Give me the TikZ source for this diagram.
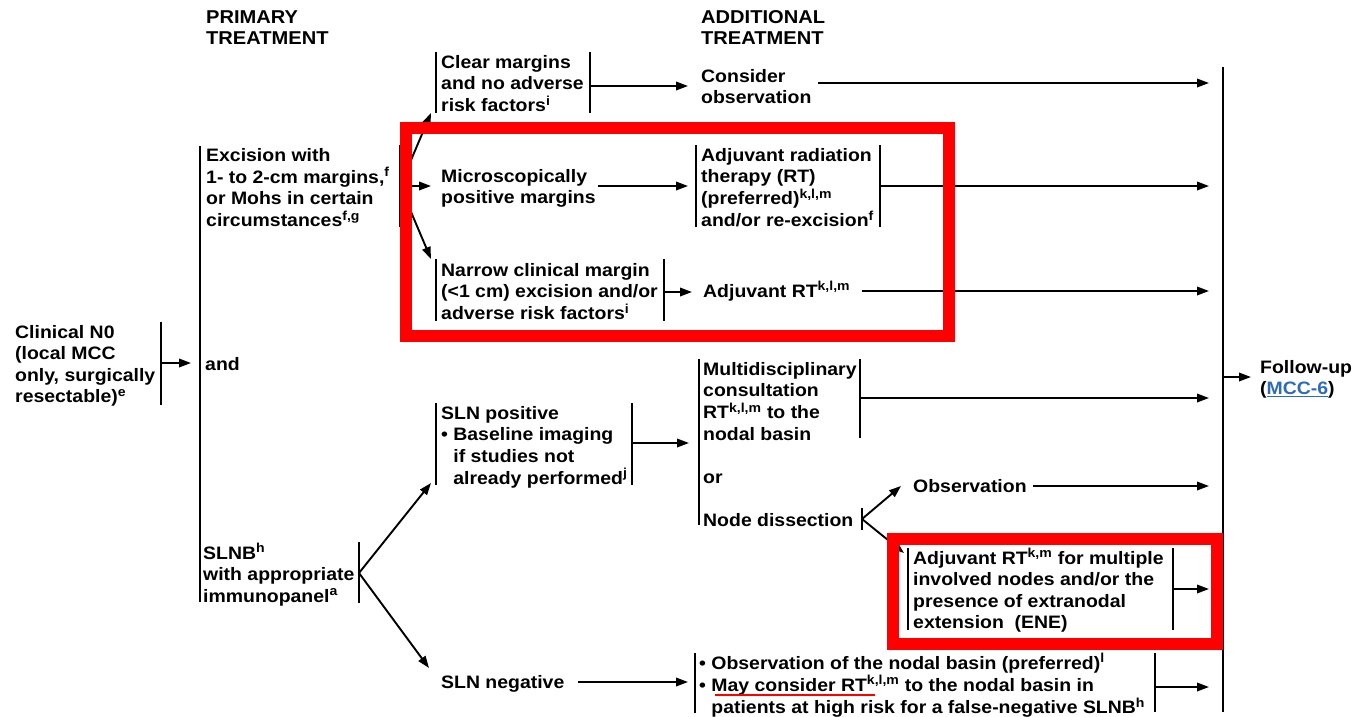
\documentclass[tikz,border=0pt]{standalone}
\usepackage{fontspec}
\setmainfont{Liberation Sans}[FakeStretch=1.08]
\usetikzlibrary{arrows.meta}
\newcommand\mlines[1]{\begin{tabular}[t]{@{}l@{}}#1\end{tabular}}
\newcommand\bul{\textbullet\ }
\newcommand\nobul{\phantom{\textbullet\ }}
\newcommand\spr[1]{\textsuperscript{\fontsize{13}{13}\selectfont #1}}
\definecolor{nred}{RGB}{255,0,0}
\definecolor{nblue}{RGB}{46,109,180}
\begin{document}
\begin{tikzpicture}[x=1pt,y=-1pt,
  txt/.style={anchor=base west,inner sep=0pt,font=\fontsize{18}{21.5}\selectfont\bfseries},
  head/.style={anchor=base west,inner sep=0pt,font=\fontsize{18.6}{21.5}\selectfont\bfseries},
  bar/.style={line width=2.2pt},
  arr/.style={line width=1.9pt,-{Triangle[length=12pt,width=8.5pt]}},
  redbox/.style={draw=nred,line width=12pt},
  redline/.style={draw=nred,line width=2.5pt}]
\useasboundingbox (0,0) rectangle (1357,716);
\fill[white] (0,0) rectangle (1357,716);

% ---------- texts ----------
\node[head] (hprim) at (206,23) {\mlines{PRIMARY\\TREATMENT}};
\node[head] (hadd) at (701,23) {\mlines{ADDITIONAL\\TREATMENT}};
\node[txt] (cn0) at (15,338) {\mlines{Clinical N0\\(local MCC\\only, surgically\\resectable)\spr{e}}};
\node[txt] (exc) at (206,161) {\mlines{Excision with\\1- to 2-cm margins,\spr{f}\\or Mohs in certain\\circumstances\spr{f,g}}};
\node[txt] (and) at (205,370) {and};
\node[txt] (slnb) at (203,559) {\mlines{SLNB\spr{h}\\with appropriate\\immunopanel\spr{a}}};
\node[txt] (clear) at (441,68) {\mlines{Clear margins\\and no adverse\\risk factors\spr{i}}};
\node[txt] (micro) at (441,182) {\mlines{Microscopically\\positive margins}};
\node[txt] (narrow) at (441,276) {\mlines{Narrow clinical margin\\(<1 cm) excision and/or\\adverse risk factors\spr{i}}};
\node[txt] (slnp) at (441,419) {\mlines{SLN positive\\\bul Baseline imaging\\\nobul if studies not\\\nobul already performed\spr{j}}};
\node[txt] (slnn) at (441,688) {SLN negative};
\node[txt] (consider) at (701,82) {\mlines{Consider\\observation}};
\node[txt] (adjrad) at (701,161) {\mlines{Adjuvant radiation\\therapy (RT)\\(preferred)\spr{k,l,m}\\and/or re-excision\spr{f}}};
\node[txt] (adjrt) at (703,297) {Adjuvant RT\spr{k,l,m}};
\node[txt] (multi) at (703,375) {\mlines{Multidisciplinary\\consultation\\RT\spr{k,l,m} to the\\nodal basin}};
\node[txt] (or) at (703,483) {or};
\node[txt] (nodediss) at (703,526) {Node dissection};
\node[txt] (obs) at (913,492) {Observation};
\node[txt] (adjkm) at (913,564) {\mlines{Adjuvant RT\spr{k,m} for multiple\\involved nodes and/or the\\presence of extranodal\\extension~ (ENE)}};
\node[txt] (obsnod) at (699,669) {\mlines{\bul Observation of the nodal basin (preferred)\spr{l}\\\bul May consider RT\spr{k,l,m} to the nodal basin in\\\nobul patients at high risk for a false-negative SLNB\spr{h}}};
\node[txt] (follow) at (1260,373) {\mlines{Follow-up\\(\textcolor{nblue}{\underline{MCC-6}})}};

% ---------- bars ----------
\draw[bar] (161,322) -- (161,405);
\draw[bar] (200,146) -- (200,602);
\draw[bar] (400,145) -- (400,227);
\draw[bar] (436,52) -- (436,113);
\draw[bar] (590,52) -- (590,113);
\draw[bar] (696,145) -- (696,227);
\draw[bar] (880,145) -- (880,227);
\draw[bar] (436,259) -- (436,321);
\draw[bar] (664,259) -- (664,321);
\draw[bar] (359,542) -- (359,603);
\draw[bar] (436,403) -- (436,485);
\draw[bar] (632,403) -- (632,485);
\draw[bar] (699,359) -- (699,525);
\draw[bar] (860,359) -- (860,438);
\draw[bar] (862,508) -- (862,530);
\draw[bar] (908,548) -- (908,630);
\draw[bar] (1173,548) -- (1173,630);
\draw[bar] (695,653) -- (695,713);
\draw[bar] (1155,653) -- (1155,712);
\draw[bar] (1223,67) -- (1223,712);

% ---------- connector points ----------
\coordinate (cn0R) at (161,363);   \coordinate (primL) at (191,363);
\coordinate (excR) at (400,186);
\coordinate (clearL) at (431,113); \coordinate (microL) at (431,186); \coordinate (narrowL) at (431,259);
\coordinate (clearR) at (590,86);  \coordinate (considerL) at (688,86);
\coordinate (considerR) at (818,83); \coordinate (fuA) at (1209,83);
\coordinate (microR) at (598,186); \coordinate (adjradL) at (688,186);
\coordinate (adjradR) at (880,186); \coordinate (fuB) at (1209,186);
\coordinate (narrowR) at (664,292); \coordinate (adjrtL) at (692,292);
\coordinate (adjrtR) at (862,291); \coordinate (fuC) at (1209,291);
\coordinate (slnbR) at (359,573);
\coordinate (slnpL) at (431,483);  \coordinate (slnnL) at (429,668);
\coordinate (slnpR) at (632,443);  \coordinate (multiL) at (689,443);
\coordinate (multiR) at (860,398); \coordinate (fuD) at (1209,398);
\coordinate (ndR) at (862,519);
\coordinate (obsL) at (901,486);   \coordinate (adjkmL) at (904,553);
\coordinate (obsR) at (1033,486);  \coordinate (fuE) at (1209,486);
\coordinate (adjkmR) at (1173,589); \coordinate (fuF) at (1209,589);
\coordinate (slnnR) at (578,682);  \coordinate (obsnodL) at (688,682);
\coordinate (obsnodR) at (1155,687); \coordinate (fuG) at (1209,687);
\coordinate (fuBar) at (1223,377); \coordinate (followL) at (1251,377);

% ---------- connectors ----------
\draw[arr] (cn0R) -- (primL);
\draw[arr] (excR) -- (clearL);
\draw[arr] (excR) -- (microL);
\draw[arr] (excR) -- (narrowL);
\draw[arr] (clearR) -- (considerL);
\draw[arr] (considerR) -- (fuA);
\draw[arr] (microR) -- (adjradL);
\draw[arr] (adjradR) -- (fuB);
\draw[arr] (narrowR) -- (adjrtL);
\draw[arr] (adjrtR) -- (fuC);
\draw[arr] (slnbR) -- (slnpL);
\draw[arr] (slnbR) -- (slnnL);
\draw[arr] (slnpR) -- (multiL);
\draw[arr] (multiR) -- (fuD);
\draw[arr] (ndR) -- (obsL);
\draw[arr] (ndR) -- (adjkmL);
\draw[arr] (obsR) -- (fuE);
\draw[arr] (adjkmR) -- (fuF);
\draw[arr] (slnnR) -- (obsnodL);
\draw[arr] (obsnodR) -- (fuG);
\draw[arr] (fuBar) -- (followL);

% ---------- highlights ----------
\draw[redbox] (406,128) rectangle (949,336);
\draw[redbox] (893,539) rectangle (1217,644);
\draw[redline] (715,695) -- (875,695);
\end{tikzpicture}
\end{document}
